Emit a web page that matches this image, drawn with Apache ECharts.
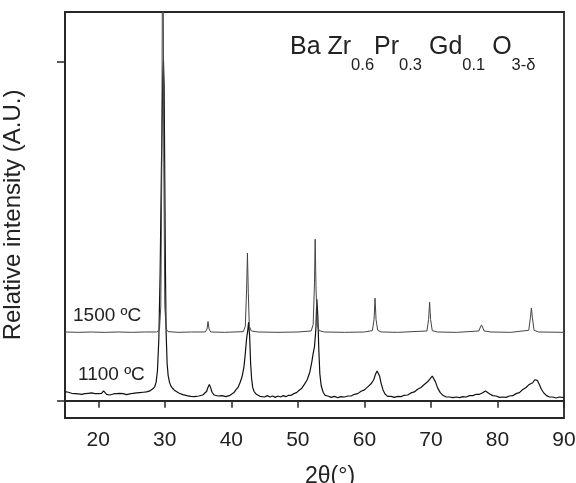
<!DOCTYPE html>
<html>
<head>
<meta charset="utf-8">
<script src="https://cdn.jsdelivr.net/npm/echarts@6/dist/echarts.min.js"></script>
<style>
  html, body { margin: 0; padding: 0; background: #fff; }
  #chart { width: 576px; height: 483px; }
</style>
</head>
<body>
<div id="chart"></div>
<script>
// 2theta ticks
let xTicks = [20, 30, 40, 50, 60, 70, 80, 90];
let yTicks = [0, 1000];

// pattern sintered at 1500 C (offset above the 1100 one)
let angles1500 = [15, 17, 19, 20.7, 20.9, 21.1, 23, 25, 27, 28.8, 29.2, 29.4, 29.55, 29.7, 29.85, 30.0, 30.2, 30.5,
	32, 34, 36.1, 36.35, 36.5, 36.65, 36.9, 39, 41.8, 42.1, 42.3, 42.42, 42.55, 42.7, 43.0, 44, 47, 50,
	52.0, 52.3, 52.5, 52.6, 52.72, 52.9, 53.2, 54, 57, 60, 61.2, 61.45, 61.6, 61.75, 62.0, 62.5, 65,
	69.4, 69.65, 69.8, 69.95, 70.2, 71, 73.6, 73.8, 74, 77.2, 77.45, 77.6, 77.75, 78.0, 79, 82,
	84.7, 84.95, 85.1, 85.25, 85.5, 86.2, 90];
let counts1500 = [203, 202, 203, 202, 205, 202, 203, 202, 203, 203, 210, 280, 700, 1600, 700, 280, 212, 204,
	202, 203, 203, 212, 234, 212, 203, 202, 204, 220, 330, 436, 320, 220, 206, 203, 202, 203,
	206, 225, 350, 477, 340, 225, 207, 203, 202, 203, 207, 240, 303, 240, 208, 203, 202,
	206, 240, 291, 240, 207, 203, 202, 205, 202, 206, 218, 224, 218, 206, 203, 202,
	208, 245, 274, 245, 208, 203, 202];

// pattern calcined at 1100 C
let angles1100 = [15.0, 15.25, 15.5, 15.75, 16.0, 16.25, 16.5, 16.75, 17.0, 17.25, 17.5, 17.75, 18.0, 18.25, 18.5, 18.75,
	19.0, 19.25, 19.5, 19.75, 20.0, 20.25, 20.5, 20.8, 21.0, 21.25, 21.5, 21.75, 22.0, 22.25, 22.5, 22.75,
	23.0, 23.25, 23.5, 23.75, 24.0, 24.25, 24.5, 24.75, 25.0, 25.25, 25.5, 25.75, 26.0, 26.25, 26.5, 26.75,
	27.0, 27.25, 27.5, 27.75, 28.0, 28.25, 28.5, 28.7, 28.9, 29.1, 29.3, 29.5, 29.7, 29.8, 29.9, 30.0,
	30.1, 30.2, 30.35, 30.5, 30.7, 30.9, 31.2, 31.5, 31.8, 32.1, 32.4, 32.7, 33.0, 33.3, 33.6, 33.9,
	34.2, 34.5, 34.8, 35.1, 35.4, 35.7, 36.0, 36.3, 36.5, 36.7, 36.9, 37.1, 37.4, 37.7, 38.0, 38.3,
	38.6, 38.9, 39.2, 39.5, 39.8, 40.1, 40.4, 40.7, 41.0, 41.3, 41.6, 41.9, 42.1, 42.3, 42.45, 42.6,
	42.75, 42.9, 43.05, 43.2, 43.4, 43.7, 44.0, 44.3, 44.6, 45.0, 45.4, 45.8, 46.2, 46.6, 47.0, 47.4,
	47.8, 48.2, 48.6, 49.0, 49.4, 49.8, 50.2, 50.6, 51.0, 51.4, 51.8, 52.1, 52.3, 52.5, 52.7, 52.85,
	53.0, 53.15, 53.3, 53.5, 53.8, 54.1, 54.5, 55.0, 55.5, 56.0, 56.5, 57.0, 57.5, 58.0, 58.5, 59.0,
	59.5, 60.0, 60.5, 61.0, 61.4, 61.7, 61.9, 62.1, 62.3, 62.5, 62.8, 63.1, 63.5, 64.0, 64.5, 65.0,
	65.5, 66.0, 66.5, 67.0, 67.5, 68.0, 68.5, 69.0, 69.5, 69.9, 70.2, 70.4, 70.7, 71.0, 71.4, 71.8,
	72.3, 72.8, 73.3, 73.8, 74.3, 74.8, 75.3, 75.8, 76.3, 76.8, 77.3, 77.7, 78.0, 78.2, 78.5, 78.9,
	79.3, 79.8, 80.3, 80.8, 81.3, 81.8, 82.3, 82.8, 83.3, 83.8, 84.3, 84.7, 85.0, 85.3, 85.6, 85.8,
	86.0, 86.3, 86.6, 87.0, 87.4, 87.8, 88.3, 88.8, 89.3, 90.0];
let counts1100 = [27, 24, 25, 27, 22, 25, 21, 25, 20, 24, 19, 23, 21, 18, 22, 19,
	23, 18, 21, 17, 21, 18, 22, 29, 24, 19, 22, 17, 21, 20, 18, 21,
	17, 22, 18, 21, 22, 18, 21, 20, 18, 22, 19, 23, 20, 24, 21, 25,
	22, 26, 25, 29, 31, 36, 42, 55, 90, 180, 380, 700, 960, 1005, 930, 650,
	380, 200, 110, 75, 55, 44, 36, 30, 25, 23, 19, 18, 16, 15, 17, 13,
	16, 12, 15, 14, 15, 17, 20, 28, 40, 48, 38, 25, 17, 13, 14, 12,
	15, 13, 12, 16, 16, 21, 24, 33, 39, 53, 70, 100, 140, 185, 205, 232,
	190, 110, 65, 40, 28, 20, 16, 13, 14, 11, 15, 11, 14, 10, 14, 11,
	15, 12, 16, 16, 21, 24, 31, 37, 49, 62, 85, 115, 140, 160, 210, 300,
	250, 150, 80, 45, 25, 16, 14, 10, 13, 9, 12, 11, 14, 14, 19, 21,
	28, 32, 41, 50, 62, 80, 88, 86, 72, 52, 32, 20, 13, 13, 10, 13,
	12, 16, 17, 23, 26, 34, 39, 48, 56, 65, 73, 72, 55, 38, 24, 16,
	11, 11, 9, 11, 9, 12, 11, 15, 15, 19, 19, 23, 26, 29, 24, 19,
	15, 14, 10, 11, 10, 14, 15, 21, 24, 33, 39, 47, 50, 53, 62, 66,
	60, 48, 34, 22, 15, 11, 11, 8, 11, 9];

function pairs(xs, ys) {
	return xs.map(function(x, i) {
		return [x, ys[i]];
	});
}

let myChart = echarts.init(document.getElementById('chart'));
let font = 'Liberation Sans, Arial, Helvetica, sans-serif';
let ink = '#262626';

let option = {
	animation: false,
	backgroundColor: '#fff',
	grid: {
		left: 65,
		right: 12,
		top: 12,
		bottom: 65,
		show: true,
		borderColor: ink,
		borderWidth: 1.8,
		outerBoundsMode: 'none'
	},
	xAxis: {
		type: 'value',
		min: 15,
		max: 90,
		name: '2θ(°)',
		nameLocation: 'middle',
		nameGap: 47,
		nameTextStyle: {
			fontFamily: font,
			fontSize: 23,
			color: '#222',
			padding: [0, 0, 0, 31]
		},
		axisLine: { show: true, lineStyle: { color: ink, width: 1.8 } },
		axisTick: {
			show: true,
			inside: false,
			length: 7,
			customValues: xTicks,
			lineStyle: { color: ink, width: 1.5 }
		},
		axisLabel: {
			customValues: xTicks,
			margin: 12,
			fontFamily: font,
			fontSize: 21,
			color: '#222'
		},
		splitLine: { show: false }
	},
	yAxis: {
		type: 'value',
		min: -51,
		max: 1148,
		name: 'Relative intensity (A.U.)',
		nameLocation: 'middle',
		nameGap: 40,
		nameTextStyle: {
			fontFamily: font,
			fontSize: 24,
			color: '#222'
		},
		axisLine: { show: true, lineStyle: { color: ink, width: 1.8 } },
		axisTick: {
			show: true,
			length: 8,
			customValues: yTicks,
			lineStyle: { color: ink, width: 1.5 }
		},
		axisLabel: { show: false },
		splitLine: { show: false }
	},
	graphic: [{
		type: 'text',
		left: 290,
		top: 35,
		style: {
			text: '{m|Ba Zr}{s|0.6}{m|Pr}{s|0.3}{m| Gd}{s|0.1}{m| O}{s|3-δ}',
			fill: '#222',
			rich: {
				m: { fontFamily: font, fontSize: 25, lineHeight: 29, verticalAlign: 'top', fill: '#222' },
				s: { fontFamily: font, fontSize: 16.5, lineHeight: 18, padding: [22, 0, 0, 0], verticalAlign: 'top', fill: '#222' }
			}
		}
	}, {
		type: 'text',
		left: 73,
		top: 306,
		style: { text: '1500 ºC', fontFamily: font, fontSize: 19, fill: '#222' }
	}, {
		type: 'text',
		left: 78,
		top: 365,
		style: { text: '1100 ºC', fontFamily: font, fontSize: 19, fill: '#222' }
	}],
	series: [{
		name: '1100 ºC',
		type: 'line',
		data: pairs(angles1100, counts1100),
		showSymbol: false,
		lineStyle: { color: '#111', width: 1.2 }
	}, {
		name: '1500 ºC',
		type: 'line',
		data: pairs(angles1500, counts1500),
		showSymbol: false,
		clip: true,
		lineStyle: { color: '#444', width: 1 }
	}]
};
myChart.setOption(option);
</script>
</body>
</html>
